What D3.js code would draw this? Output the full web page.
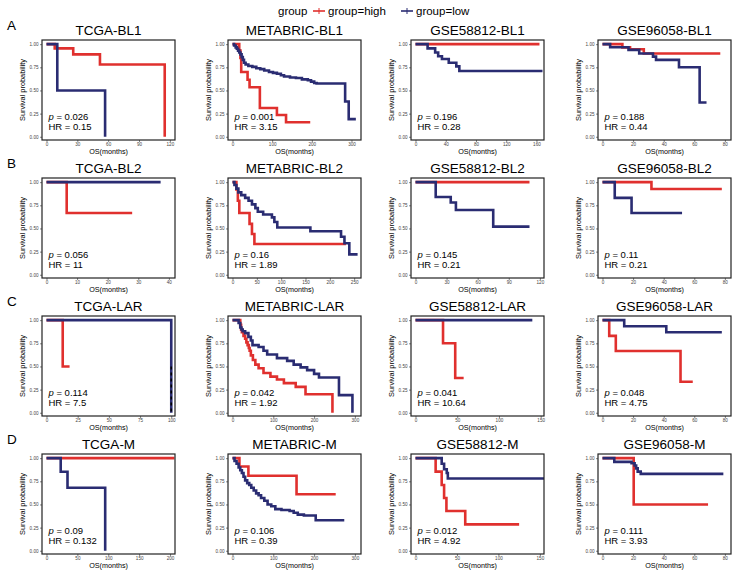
<!DOCTYPE html>
<html>
<head>
<meta charset="utf-8">
<script src="https://cdn.jsdelivr.net/npm/d3@7"></script>
<style>
  html, body { margin: 0; padding: 0; background: #fff; }
  svg { display: block; font-family: "Liberation Sans", Arial, Helvetica, sans-serif; }
</style>
</head>
<body>
<svg id="chart" width="739" height="573"></svg>
<script>
// ---------------- DATA ----------------
const rowLetters = ["A", "B", "C", "D"];
const panelTitles = [
  "TCGA-BL1", "METABRIC-BL1", "GSE58812-BL1", "GSE96058-BL1",
  "TCGA-BL2", "METABRIC-BL2", "GSE58812-BL2", "GSE96058-BL2",
  "TCGA-LAR", "METABRIC-LAR", "GSE58812-LAR", "GSE96058-LAR",
  "TCGA-M", "METABRIC-M", "GSE58812-M", "GSE96058-M"
];
const xTickValues = [
  [0, 30, 60, 90, 120], [0, 100, 200, 300], [0, 40, 80, 120, 160], [0, 20, 40, 60, 80],
  [0, 10, 20, 30, 40], [0, 50, 100, 150, 200, 250], [0, 30, 60, 90, 120], [0, 20, 40, 60, 80],
  [0, 25, 50, 75, 100], [0, 100, 200, 300], [0, 50, 100, 150], [0, 20, 40, 60, 80],
  [0, 50, 100, 150, 200], [0, 100, 200, 300], [0, 50, 100, 150], [0, 20, 40, 60, 80]
];
const xDomainMax = [125, 324, 170, 84, 42, 264, 124, 84, 103, 315, 154, 84, 208, 315, 155, 84];
const yTickValues = [0, 0.25, 0.5, 0.75, 1];
const pValues = ["0.026", "0.001", "0.196", "0.188", "0.056", "0.16", "0.145", "0.11",
                 "0.114", "0.042", "0.041", "0.048", "0.09", "0.106", "0.012", "0.111"];
const hrValues = ["0.15", "3.15", "0.28", "0.44", "11", "1.89", "0.21", "0.21",
                  "7.5", "1.92", "10.64", "4.75", "0.132", "0.39", "4.92", "3.93"];
const groupNames = ["group=high", "group=low"];

// survival steps [time, survival]; the last point ends the curve
const highCurves = [
  [[0,1],[8,0.955],[26,0.89],[52,0.78],[115,0]],
  [[0,1],[17,0.93],[20,0.85],[22,0.70],[38,0.615],[43,0.535],[69,0.31],[112,0.235],[135,0.157],[196,0.157]],
  [[0,1],[164,1]],
  [[0,1],[13,0.965],[18,0.945],[27,0.90],[77,0.90]],
  [[0,1],[6.6,0.667],[28,0.667]],
  [[0,1],[8,0.92],[11,0.80],[14,0.667],[35,0.55],[40,0.44],[45,0.333],[233,0.333]],
  [[0,1],[110,1]],
  [[0,1],[32,0.926],[78,0.926]],
  [[0,1],[13,0.5],[18.5,0.5]],
  [[0,1],[19,0.95],[21,0.90],[23,0.87],[27,0.83],[31,0.80],[34,0.76],[37,0.73],[40,0.70],[42,0.67],[45,0.62],[50,0.57],[56,0.52],[64,0.48],[76,0.43],[93,0.39],[109,0.36],[126,0.32],[155,0.28],[179,0.20],[245,0]],
  [[0,1],[33,0.75],[47.6,0.375],[57.7,0.375]],
  [[0,1],[4.4,0.83],[8.7,0.667],[51,0.335],[59,0.335]],
  [[0,1],[207,1]],
  [[0,1],[17,0.91],[39,0.81],[157,0.61],[253,0.61]],
  [[0,1],[24.3,0.855],[31.6,0.71],[34.5,0.57],[37.3,0.43],[60,0.285],[125,0.285]],
  [[0,1],[20.4,0.50],[69,0.50]]
];
const lowCurves = [
  [[0,1],[10.5,0.5],[57,0]],
  [[0,1],[4,0.985],[8,0.965],[11,0.95],[14,0.93],[17,0.91],[20,0.89],[23,0.86],[26,0.83],[29,0.80],[33,0.78],[40,0.765],[50,0.755],[60,0.74],[70,0.73],[80,0.715],[92,0.70],[102,0.69],[112,0.68],[122,0.665],[130,0.65],[145,0.64],[160,0.635],[175,0.62],[190,0.61],[198,0.595],[206,0.58],[212,0.575],[284,0.38],[293,0.19],[311,0.19]],
  [[0,1],[16,0.955],[26,0.91],[30,0.87],[35,0.84],[44,0.80],[54,0.76],[58,0.71],[168,0.71]],
  [[0,1],[5,0.967],[17,0.938],[24,0.90],[33,0.865],[35,0.83],[50,0.75],[63.5,0.37],[68,0.37]],
  [[0,1],[37.3,1]],
  [[0,1],[4,0.97],[8,0.93],[12,0.89],[18,0.86],[26,0.83],[33,0.80],[40,0.76],[47,0.72],[52,0.68],[63,0.65],[81,0.62],[86,0.57],[92,0.51],[160,0.47],[223,0.41],[230,0.34],[240,0.22],[257,0.22]],
  [[0,1],[19.5,0.84],[34,0.78],[39,0.70],[75,0.52],[110,0.52]],
  [[0,1],[8,0.83],[19,0.667],[52,0.667]],
  [[0,1],[100,0]],
  [[0,1],[15,0.97],[19,0.92],[22,0.90],[25,0.88],[31,0.86],[39,0.82],[45,0.78],[49,0.73],[64,0.71],[76,0.67],[85,0.63],[109,0.59],[134,0.56],[150,0.52],[167,0.49],[183,0.46],[200,0.42],[212,0.38],[261,0.19],[294,0]],
  [[0,1],[140,1]],
  [[0,1],[14.2,0.934],[41.7,0.87],[78,0.87]],
  [[0,1],[23,0.853],[34,0.68],[95,0]],
  [[0,1],[5,0.97],[10,0.94],[15,0.90],[19,0.87],[23,0.84],[27,0.80],[31,0.76],[36,0.73],[41,0.71],[46,0.68],[52,0.65],[58,0.62],[64,0.60],[70,0.57],[78,0.54],[86,0.50],[95,0.48],[105,0.45],[120,0.44],[140,0.43],[150,0.41],[160,0.39],[175,0.38],[204,0.33],[274,0.33]],
  [[0,1],[31.6,0.94],[34.5,0.88],[37.7,0.84],[39,0.78],[155,0.78]],
  [[0,1],[7.7,0.96],[19,0.945],[21,0.92],[22,0.89],[23,0.855],[25,0.83],[79,0.83]]
];
// median survival marker (panel index, time, survival level)
const medianMarks = [[8, 100, 0.5]];

// ---------------- LAYOUT ----------------
const colLeft = [42, 228, 411, 598];
const rowTop = [40, 178, 316, 454];
const boxW = 133, boxH = 100;
const colors = { high: "#e0302e", low: "#2a2c72" };

const svg = d3.select("#chart");

// legend
const lg = svg.append("g");
lg.append("text").attr("x", 278).attr("y", 15).attr("font-size", 11.5).text("group");
const legendItems = [{x: 313, c: colors.high, t: groupNames[0]}, {x: 401, c: colors.low, t: groupNames[1]}];
legendItems.forEach(d => {
  lg.append("line").attr("x1", d.x).attr("x2", d.x + 12).attr("y1", 11).attr("y2", 11)
    .attr("stroke", d.c).attr("stroke-width", 1.6);
  lg.append("line").attr("x1", d.x + 6).attr("x2", d.x + 6).attr("y1", 8).attr("y2", 14)
    .attr("stroke", d.c).attr("stroke-width", 1);
  lg.append("text").attr("x", d.x + 15).attr("y", 15).attr("font-size", 11.5).text(d.t);
});

// row letters
rowLetters.forEach((L, r) => {
  svg.append("text").attr("x", 7).attr("y", rowTop[r] - 10).attr("font-size", 13.5).text(L);
});

panelTitles.forEach((title, i) => {
  const r = Math.floor(i / 4), c = i % 4;
  const L = colLeft[c], T = rowTop[r];
  const xMax = xDomainMax[i];
  const x = d3.scaleLinear().domain([-0.035 * xMax, xMax]).range([L, L + boxW]);
  const y = d3.scaleLinear().domain([-0.035, 1.045]).range([T + boxH, T]);
  const g = svg.append("g");

  // title
  g.append("text").attr("x", L + boxW / 2).attr("y", T - 5).attr("text-anchor", "middle")
    .attr("font-size", 13.5).text(title);

  // axes
  const xa = g.append("g").attr("transform", `translate(0,${T + boxH})`)
    .call(d3.axisBottom(x).tickValues(xTickValues[i]).tickSize(2).tickPadding(1).tickFormat(d3.format("d")));
  const ya = g.append("g").attr("transform", `translate(${L},0)`)
    .call(d3.axisLeft(y).tickValues(yTickValues).tickSize(2).tickPadding(1.5).tickFormat(d3.format(".2f")));
  [xa, ya].forEach(a => {
    a.select(".domain").remove();
    a.selectAll("text").attr("font-size", 4.6).attr("fill", "#444").attr("font-family", "'Liberation Sans', Arial, sans-serif");
    a.selectAll("line").attr("stroke", "#333").attr("stroke-width", 0.6);
  });

  // axis labels
  g.append("text").attr("x", L + boxW / 2).attr("y", T + boxH + 14).attr("text-anchor", "middle")
    .attr("font-size", 7.2).text("OS(months)");
  g.append("text").attr("transform", `translate(${L - 17},${T + boxH / 2}) rotate(-90)`)
    .attr("text-anchor", "middle").attr("font-size", 7.4).text("Survival probability");

  // curves
  const line = d3.line().x(d => x(d[0])).y(d => y(d[1])).curve(d3.curveStepAfter);
  g.append("path").datum(highCurves[i]).attr("d", line).attr("fill", "none")
    .attr("stroke", colors.high).attr("stroke-width", 2.6).attr("stroke-linejoin", "miter");
  g.append("path").datum(lowCurves[i]).attr("d", line).attr("fill", "none")
    .attr("stroke", colors.low).attr("stroke-width", 2.6).attr("stroke-linejoin", "miter");

  medianMarks.filter(m => m[0] === i).forEach(m => {
    g.append("line").attr("x1", x(m[1])).attr("x2", x(m[1])).attr("y1", y(m[2])).attr("y2", y(0))
      .attr("stroke", "#000").attr("stroke-width", 1.6).attr("stroke-dasharray", "3,3");
  });

  // box
  g.append("rect").attr("x", L).attr("y", T).attr("width", boxW).attr("height", boxH)
    .attr("fill", "none").attr("stroke", "#222").attr("stroke-width", 1.2);

  // stats text
  const t1 = g.append("text").attr("x", x(0) + 2).attr("y", y(0.21)).attr("dominant-baseline", "middle")
    .attr("font-size", 9.5);
  t1.append("tspan").attr("font-style", "italic").text("p");
  t1.append("tspan").text(" = " + pValues[i]);
  g.append("text").attr("x", x(0) + 2).attr("y", y(0.105)).attr("dominant-baseline", "middle")
    .attr("font-size", 9.5).text("HR = " + hrValues[i]);
});
</script>
</body>
</html>
